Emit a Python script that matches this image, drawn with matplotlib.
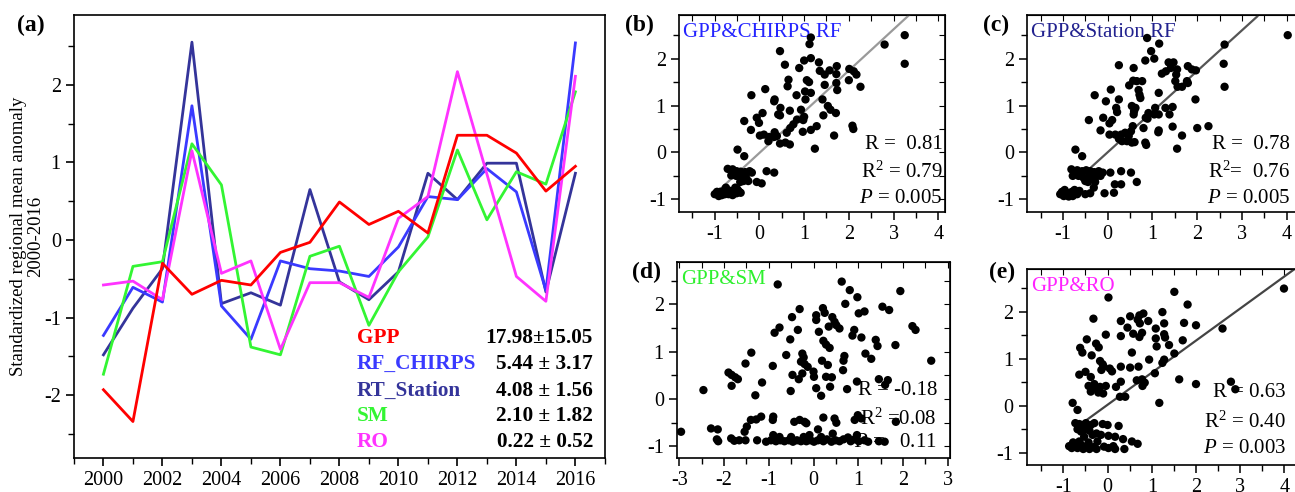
import numpy as np
import matplotlib
matplotlib.use("Agg")
import matplotlib.pyplot as plt
from matplotlib.ticker import MultipleLocator

plt.rcParams['font.family'] = ['Liberation Serif', 'DejaVu Serif']
plt.rcParams['mathtext.fontset'] = 'custom'
plt.rcParams['mathtext.rm'] = 'Liberation Serif'
plt.rcParams['mathtext.it'] = 'Liberation Serif:italic'
plt.rcParams['axes.unicode_minus'] = False

# ---- panel (a): standardized anomalies ----
years = list(range(2000, 2017))
gpp = [-1.93, -2.34, -0.30, -0.70, -0.52, -0.58, -0.16, -0.03, 0.49, 0.20, 0.37, 0.09, 1.35, 1.35, 1.12, 0.63, 0.95]
rf_chirps = [-1.23, -0.61, -0.80, 1.73, -0.85, -1.28, -0.27, -0.37, -0.40, -0.47, -0.09, 0.56, 0.52, 0.92, 0.62, -0.65, 2.54]
rt_station = [-1.48, -0.88, -0.37, 2.55, -0.82, -0.68, -0.84, 0.65, -0.54, -0.77, -0.41, 0.86, 0.52, 0.99, 0.99, -0.67, 0.86]
sm = [-1.73, -0.34, -0.28, 1.24, 0.71, -1.38, -1.48, -0.21, -0.08, -1.10, -0.41, 0.04, 1.16, 0.26, 0.88, 0.72, 1.91]
ro = [-0.58, -0.53, -0.77, 1.15, -0.43, -0.27, -1.41, -0.55, -0.55, -0.74, 0.28, 0.56, 2.17, 0.85, -0.47, -0.79, 2.11]

series_names = ['GPP', 'RF_CHIRPS', 'RT_Station', 'SM', 'RO']
series_stats = ['17.98\u00b115.05', '5.44 \u00b1 3.17', '4.08 \u00b1 1.56', '2.10 \u00b1 1.82', '0.22 \u00b1 0.52']
series_colors = ['#ff0000', '#3a3aff', '#34349a', '#33f533', '#ff33ff']

# ---- panel (b): GPP vs CHIRPS RF ----
b_x = [1.15, 1.12, 3.25, 2.80, 3.25, 0.46, 1.15, 1.00, 1.33, 0.89, 0.57, 1.73, 1.57, 1.35, 1.46, 2.01, 2.11, 2.17,
       2.00, 2.26, 1.72, 1.72, 1.74, 1.06, 1.11, 0.65, 0.63, 1.46, 1.02, 1.15, 0.13, -0.18, 0.83, 0.34, 1.03, 1.41,
       0.33, 0.47, 0.68, 0.93, 1.53, 1.59, 1.71, 1.43, 0.07, -0.06, -0.34, 0.46, 0.42, 1.00, 0.98, 0.84, 0.76, 0.69,
       1.28, 2.08, 2.10, -0.01, -0.19, 1.15, 0.97, 0.61, 0.34, 0.10, 0.01, 0.22, 0.33, 0.39, 1.67, 0.58, 0.68, 0.20,
       0.46, 1.24, -0.49, -0.34, -0.71, -0.60, -0.51, -0.42, -0.32, -0.22, -0.17, 0.16, 0.33, -0.63, -0.52, -0.39,
       -0.30, -0.25, -0.06, 0.05, -0.43, -0.36, -1.00, -0.94, -0.88, -0.80, -0.73, -0.65, -0.58, -0.51, -0.45, -0.91,
       -0.84, -0.77, -0.69, -0.60, -0.54, -0.49, -0.75, -0.95, -0.42]
b_y = [2.45, 2.31, 2.50, 2.30, 1.89, 2.16, 2.01, 1.96, 1.92, 1.80, 1.87, 1.84, 1.75, 1.74, 1.66, 1.78, 1.73, 1.66,
       1.54, 1.40, 1.67, 1.48, 1.33, 1.54, 1.50, 1.55, 1.41, 1.44, 1.30, 1.27, 1.35, 1.22, 1.22, 1.13, 1.13, 1.13,
       1.09, 0.95, 0.89, 0.91, 0.99, 0.91, 0.84, 0.79, 0.84, 0.74, 0.67, 0.79, 0.81, 0.76, 0.69, 0.70, 0.60, 0.52,
       0.56, 0.57, 0.50, 0.63, 0.48, 0.48, 0.44, 0.42, 0.43, 0.38, 0.36, 0.33, 0.33, 0.35, 0.36, 0.21, 0.17, 0.24,
       0.19, 0.08, 0.06, -0.08, -0.35, -0.36, -0.40, -0.41, -0.42, -0.40, -0.43, -0.40, -0.43, -0.49, -0.50, -0.52,
       -0.54, -0.61, -0.63, -0.66, -0.63, -0.61, -0.89, -0.88, -0.84, -0.82, -0.80, -0.82, -0.84, -0.87, -0.84, -0.93,
       -0.91, -0.89, -0.89, -0.91, -0.75, -0.79, -0.75, -0.84, -0.86]

# ---- panel (c): GPP vs Station RF ----
c_x = [4.02, 0.88, 1.15, 0.97, 1.04, 0.84, 2.61, 2.59, 2.61, 0.25, 0.58, 1.36, 1.47, 1.41, 1.30, 1.21, 1.55, 1.53,
       1.79, 1.88, 1.97, 1.77, 1.79, 1.66, 1.51, 1.56, 0.57, 0.65, 0.77, 0.69, 0.07, 0.48, 0.71, 0.73, -0.29, 1.14,
       1.96, 0.25, -0.04, 0.19, 0.21, 0.54, 0.62, 0.59, 0.58, 0.91, 1.04, 1.14, 1.06, 1.45, 1.29, 1.38, 0.85, -0.10,
       0.10, -0.42, 0.89, 0.04, 0.56, 0.80, 1.14, 1.13, 1.45, 2.00, 2.25, -0.16, 0.04, 0.17, 0.30, 0.39, 0.52, 0.47,
       0.25, 0.32, 0.43, 0.54, 0.60, 0.84, 0.86, 1.66, 1.55, -0.72, -0.57, -0.81, -0.68, -0.57, -0.48, -0.39, -0.30,
       -0.20, -0.11, 0.06, 0.30, 0.52, -0.78, -0.65, -0.54, -0.42, -0.28, -0.16, -0.50, -0.44, -0.33, -0.28, 0.16,
       0.30, 0.65, -0.31, -1.06, -1.02, -0.96, -0.91, -0.86, -0.80, -0.74, -0.68, -0.63, -0.98, -0.87, -0.78, -0.50,
       -0.39, -0.07, 0.14]
c_y = [2.50, 2.44, 2.32, 2.16, 2.00, 1.96, 2.30, 1.89, 1.40, 1.86, 1.80, 1.92, 1.92, 1.80, 1.73, 1.68, 1.77, 1.66,
       1.84, 1.77, 1.75, 1.52, 1.48, 1.40, 1.52, 1.40, 1.53, 1.52, 1.52, 1.33, 1.34, 1.43, 1.23, 1.16, 1.22, 1.27,
       1.13, 1.13, 1.09, 0.95, 0.86, 0.99, 0.95, 0.88, 0.81, 0.84, 0.81, 0.81, 0.95, 0.97, 0.95, 0.81, 0.74, 0.74,
       0.69, 0.69, 0.72, 0.62, 0.56, 0.52, 0.47, 0.43, 0.55, 0.52, 0.56, 0.47, 0.38, 0.38, 0.38, 0.42, 0.45, 0.35,
       0.29, 0.24, 0.24, 0.21, 0.22, 0.21, 0.16, 0.36, 0.08, 0.06, -0.08, -0.36, -0.38, -0.40, -0.38, -0.40, -0.42,
       -0.40, -0.43, -0.43, -0.40, -0.43, -0.50, -0.50, -0.54, -0.50, -0.54, -0.50, -0.61, -0.63, -0.57, -0.63, -0.68,
       -0.68, -0.63, -0.75, -0.89, -0.84, -0.80, -0.86, -0.89, -0.84, -0.80, -0.89, -0.82, -0.93, -0.94, -0.93, -0.89,
       -0.87, -0.87, -0.86]

# ---- panel (d): GPP vs SM ----
d_x = [-0.80, 0.63, 0.81, 1.94, 0.98, 0.71, 1.01, 1.14, 1.54, 1.69, -0.31, 0.21, 0.25, 0.06, 0.06, -0.48, 0.42, 0.47,
       0.51, 0.58, 0.34, -0.76, -0.87, -0.35, 0.12, 0.91, 0.87, 1.07, 2.21, 2.28, -0.52, 0.22, 0.28, 0.36, 1.39, 1.43,
       1.83, -1.39, -0.61, -0.25, -0.22, 1.16, 1.29, 0.69, 0.67, 0.19, 2.63, -1.52, -0.91, -0.28, -0.20, -0.13, 0.32,
       0.66, 0.00, 0.01, -1.90, -1.83, -1.75, -1.69, -0.47, -0.25, -0.33, 0.28, 0.41, 1.46, 1.66, -1.15, -1.83, -2.46,
       0.37, 0.06, 0.75, 0.97, 1.60, -0.51, 0.17, -1.30,
       -0.90, -0.91, -0.43, -0.31, -0.20, -0.16, 0.22, 0.47, 0.51, -1.40, -1.28, -1.17, -1.49, -2.29, -2.14, -1.54,
       0.10, 0.43, 0.92, 1.07, 1.84, -2.96, 0.99,
       -2.16, -2.13, -1.84, -1.77, -1.66, -1.52, -1.26, -1.06, -0.95, -0.90, -0.84, -0.74, -0.65, -0.55, -0.46, -0.37,
       -0.28, -0.22, -0.16, -0.07, 0.01, 0.10, 0.17, 0.22, 0.30, 0.40, 0.49, 0.58, 0.67, 0.77, 0.83, 0.92, 1.01, 1.14,
       1.22, 1.46, 1.59, -0.50, -0.09, 0.97, -0.76]
d_y = [2.42, 2.48, 2.30, 2.28, 2.15, 2.01, 1.81, 1.85, 1.95, 1.88, 1.90, 1.92, 1.82, 1.77, 1.67, 1.73, 1.73, 1.63,
       1.56, 1.49, 1.53, 1.51, 1.40, 1.46, 1.42, 1.46, 1.34, 1.30, 1.54, 1.46, 1.26, 1.23, 1.15, 1.08, 1.25, 1.12,
       1.14, 0.98, 0.93, 0.96, 0.88, 0.96, 0.85, 0.91, 0.81, 0.81, 0.81, 0.75, 0.70, 0.79, 0.74, 0.68, 0.72, 0.61,
       0.58, 0.47, 0.56, 0.51, 0.46, 0.42, 0.51, 0.54, 0.42, 0.47, 0.46, 0.42, 0.40, 0.35, 0.28, 0.19, 0.26, 0.23,
       0.21, 0.37, 0.30, 0.17, 0.07, 0.08,
       -0.37, -0.44, -0.48, -0.44, -0.48, -0.51, -0.39, -0.41, -0.50, -0.44, -0.43, -0.37, -0.58, -0.62, -0.64, -0.69,
       -0.64, -0.73, -0.44, -0.41, -0.48, -0.69, -0.34,
       -0.85, -0.89, -0.83, -0.88, -0.87, -0.87, -0.87, -0.90, -0.87, -0.76, -0.89, -0.87, -0.89, -0.87, -0.90, -0.87,
       -0.89, -0.80, -0.89, -0.87, -0.90, -0.87, -0.80, -0.89, -0.85, -0.90, -0.87, -0.89, -0.85, -0.81, -0.89, -0.85,
       -0.89, -0.87, -0.90, -0.89, -0.90, -0.80, -0.76, -0.76, -0.80]

# ---- panel (e): GPP vs RO ----
e_x = [3.99, 1.51, 0.02, 1.81, -0.32, 1.24, 0.72, 0.81, 0.51, 0.30, 0.92, 0.68, 0.73, 1.73, 2.00, 1.28, 1.09, 0.45,
       0.58, 0.78, 0.72, 1.28, 1.30, -0.04, 0.30, -0.47, 1.09, 1.70, 2.60, -0.26, -0.20, 1.11, 1.39, -0.62, -0.57,
       -0.36, 0.55, 1.51, 0.94, 1.28, 1.24, -0.17, -0.11, -0.09, 0.05, 0.10, -0.14, 0.30, 0.51, 0.70, 1.07, -0.64,
       -0.50, -0.38, 0.66, 0.78, 1.62, 0.84, 0.79, 2.00, 2.79, 2.89, -0.43, -0.30, -0.26, -0.17, -0.04, 0.19, 0.30,
       -0.38, -0.21, -0.10, 0.28, 0.40, 1.17, -0.79, -0.68,
       -0.73, -0.64, -0.57, -0.49, -0.38, -0.30, -0.11, 0.00, 0.25, -0.68, -0.60, -0.50, -0.41, -0.25, -0.15, -0.34,
       0.02, 0.17, 0.35, 0.55, 0.68, -0.53,
       -0.87, -0.81, -0.73, -0.68, -0.60, -0.55, -0.47, -0.41, -0.32, -0.25, -0.08, 0.02, 0.13, 0.17, 0.38, -0.78,
       -0.64, -0.43, -0.23]
e_y = [2.49, 2.42, 2.30, 2.15, 1.85, 1.99, 1.92, 1.96, 1.90, 1.80, 1.80, 1.83, 1.75, 1.76, 1.71, 1.75, 1.64, 1.66,
       1.53, 1.55, 1.46, 1.52, 1.45, 1.51, 1.48, 1.41, 1.43, 1.39, 1.64, 1.32, 1.24, 1.26, 1.29, 1.23, 1.13, 1.07,
       1.13, 1.11, 0.98, 0.98, 0.91, 0.95, 0.88, 0.83, 0.79, 0.73, 0.76, 0.83, 0.81, 0.83, 0.69, 0.66, 0.72, 0.61,
       0.54, 0.56, 0.56, 0.49, 0.42, 0.46, 0.51, 0.35, 0.42, 0.46, 0.37, 0.40, 0.42, 0.40, 0.51, 0.30, 0.28, 0.26,
       0.19, 0.19, 0.06, 0.06, -0.09,
       -0.37, -0.39, -0.41, -0.37, -0.41, -0.37, -0.39, -0.41, -0.43, -0.50, -0.55, -0.50, -0.53, -0.59, -0.62, -0.62,
       -0.64, -0.66, -0.71, -0.76, -0.81, -0.66,
       -0.86, -0.90, -0.85, -0.90, -0.83, -0.92, -0.86, -0.92, -0.88, -0.92, -0.87, -0.90, -0.86, -0.92, -0.92, -0.78,
       -0.76, -0.78, -0.76]

# fitted lines: (slope, intercept, x start, x end)
fit_b = (0.878, -0.01, -1.0, 3.35)
fit_c = (0.867, 0.004, -0.42, 3.34)
fit_e = (0.682, 0.02, -0.53, 4.25)

fig = plt.figure(figsize=(12.95, 4.92), dpi=100)

# ---------------- (a) ----------------
ax = fig.add_axes([0.0571, 0.0691, 0.410, 0.9004])
all_series = [gpp, rf_chirps, rt_station, sm, ro]
for i in [2, 1, 3, 4, 0]:
    ax.plot(years, all_series[i], color=series_colors[i], lw=2.0)
ax.set_xlim(1999, 2017)
ax.set_ylim(-2.81, 2.9)
ax.xaxis.set_major_locator(MultipleLocator(2))
ax.xaxis.set_minor_locator(MultipleLocator(1))
ax.yaxis.set_major_locator(MultipleLocator(1))
ax.yaxis.set_minor_locator(MultipleLocator(0.5))
ax.tick_params(which='both', direction='out', labelsize=14.5)
ax.tick_params(which='major', length=6, width=1.2)
ax.tick_params(which='minor', length=4, width=1.0)
for s in ax.spines.values():
    s.set_linewidth(1.2)
ax.set_ylabel('Standardized regional mean anomaly\n2000-2016', fontsize=13.5, linespacing=1.05)
ax.yaxis.set_label_coords(-0.056, 0.5)
ys = [-1.26, -1.60, -1.94, -2.27, -2.61]
for name, stat, col, yv in zip(series_names, series_stats, series_colors, ys):
    ax.text(2008.6, yv, name, color=col, fontsize=15.3, fontweight='bold', va='center', ha='left')
    ax.text(2016.6, yv, stat, color='black', fontsize=15.3, fontweight='bold', va='center', ha='right')
fig.text(17 / 1295, 1 - 25 / 492, '(a)', fontsize=17, fontweight='bold', va='center', ha='left')


def scatter_panel(rect, xs, ys_, xlim, ylim, label, label_col, stats, stat_x, stat_ys, fit=None, fit_col='k'):
    a = fig.add_axes(rect)
    if fit is not None:
        k, b0, x0, x1 = fit
        xx = np.array([x0, x1])
        a.plot(xx, k * xx + b0, color=fit_col, lw=1.6, zorder=2)
    a.scatter(xs, ys_, s=36, color='black', edgecolors='none', zorder=3)
    a.set_xlim(*xlim)
    a.set_ylim(*ylim)
    a.xaxis.set_major_locator(MultipleLocator(1))
    a.xaxis.set_minor_locator(MultipleLocator(0.5))
    a.yaxis.set_major_locator(MultipleLocator(1))
    a.yaxis.set_minor_locator(MultipleLocator(0.5))
    a.tick_params(which='both', direction='out', labelsize=14.5)
    a.tick_params(which='major', length=6, width=1.1)
    a.tick_params(which='minor', length=4, width=1.0)
    for s in a.spines.values():
        s.set_linewidth(1.2)
    top = a.secondary_xaxis('top')
    top.xaxis.set_major_locator(MultipleLocator(0.5))
    top.tick_params(direction='in', length=4, labeltop=False)
    right = a.secondary_yaxis('right')
    right.yaxis.set_major_locator(MultipleLocator(0.5))
    right.tick_params(direction='in', length=4, labelright=False)
    a.text(0.015, 0.91, label, color=label_col, fontsize=15, transform=a.transAxes, va='center', ha='left', zorder=1)
    for t, yv in zip(stats, stat_ys):
        a.text(stat_x, yv, t, fontsize=15, transform=a.transAxes, va='center', ha='right', zorder=1)
    return a


scatter_panel([0.5243, 0.5691, 0.2054, 0.4004], b_x, b_y, (-1.8, 4.15), (-1.27, 2.93),
              'GPP&CHIRPS RF', '#2424ff', ['R =  0.81', 'R$^2$ = 0.79', '$P$ = 0.005'], 0.991,
              [0.345, 0.203, 0.071], fit=fit_b, fit_col='#9a9a9a')
scatter_panel([0.7931, 0.5691, 0.2120, 0.4004], c_x, c_y, (-1.8, 4.33), (-1.27, 2.93),
              'GPP&Station RF', '#22228f', ['R =  0.78', 'R$^2$=  0.76', '$P$ = 0.005'], 0.958,
              [0.345, 0.203, 0.071], fit=fit_c, fit_col='#555555')
scatter_panel([0.5228, 0.0685, 0.2108, 0.3996], d_x, d_y, (-3.05, 3.05), (-1.25, 2.9),
              'GPP&SM', '#2ef02e', ['R = -0.18', 'R$^2$ =0.08', '$P$ =   0.11'], 0.952,
              [0.347, 0.200, 0.078])
scatter_panel([0.7928, 0.0549, 0.2120, 0.3978], e_x, e_y, (-1.83, 4.38), (-1.26, 2.9),
              'GPP&RO', '#ff22ff', ['R = 0.63', 'R$^2$ = 0.40', '$P$ = 0.003'], 0.944,
              [0.368, 0.221, 0.085], fit=fit_e, fit_col='#444444')

fig.text(625 / 1295, 1 - 25 / 492, '(b)', fontsize=17, fontweight='bold', va='center', ha='left')
fig.text(983 / 1295, 1 - 25 / 492, '(c)', fontsize=17, fontweight='bold', va='center', ha='left')
fig.text(632 / 1295, 1 - 272 / 492, '(d)', fontsize=17, fontweight='bold', va='center', ha='left')
fig.text(989 / 1295, 1 - 272 / 492, '(e)', fontsize=17, fontweight='bold', va='center', ha='left')

fig.savefig('out.png', dpi=100)
